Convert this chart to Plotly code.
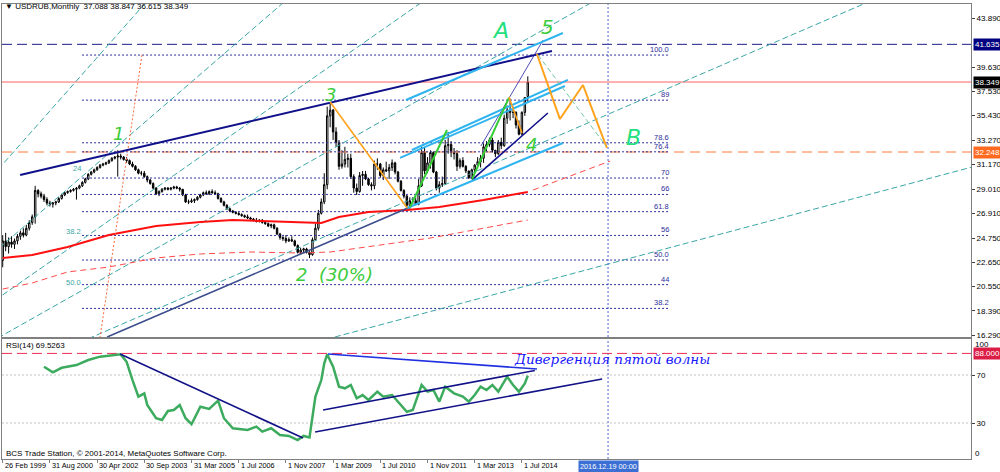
import plotly.graph_objects as go

# ---------------- data (bar index = monthly bar on the MT4 time scale) ----------------
bars = list(range(179))
opens = [22.8,24.5,24.0,24.4,24.2,24.5,24.9,25.2,25.0,25.6,26.1,26.6,28.9,28.6,28.4,28.1,27.8,27.7,27.8,27.9,
         28.2,28.5,28.7,28.8,28.9,29.0,29.1,29.3,29.6,29.9,30.3,30.5,30.7,30.9,31.1,31.2,31.3,31.5,31.7,31.8,
         31.9,31.8,31.6,31.5,31.2,31.0,30.7,30.4,30.4,30.1,29.8,29.5,29.1,28.6,28.8,29.0,29.1,29.0,29.1,29.2,
         29.1,29.0,28.5,27.9,27.9,28.0,28.1,28.3,28.5,28.7,28.6,28.8,28.7,28.6,28.2,27.9,27.6,27.3,27.1,27.0,
         26.9,26.8,26.7,26.6,26.5,26.4,26.3,26.2,26.3,26.1,26.0,25.8,25.9,25.6,25.1,24.8,24.7,24.5,24.6,24.5,
         24.1,23.5,23.7,23.8,23.5,23.3,24.6,25.6,26.9,27.9,29.4,35.4,35.9,34.0,33.1,31.0,31.2,31.6,31.7,30.1,
         29.1,28.8,30.2,30.3,29.9,29.4,29.3,31.2,31.2,30.2,30.7,30.6,30.9,31.3,30.5,29.7,28.9,28.4,27.6,28.0,
         28.0,27.7,29.3,32.2,30.6,31.3,32.2,30.5,29.1,29.4,29.5,32.8,32.9,32.2,32.1,31.0,31.5,31.0,30.6,30.0,
         30.7,31.1,31.4,31.7,32.7,32.9,33.3,32.4,32.1,33.1,32.8,35.2,35.9,35.7,35.7,34.6,33.8,35.7,37.088]
highs = [25.0,25.2,24.8,24.9,24.7,25.1,25.4,25.6,25.9,26.3,26.8,29.3,29.0,28.8,28.6,28.3,28.0,27.9,28.0,28.3,
         28.6,28.8,28.9,29.0,29.1,29.2,29.4,29.7,30.0,30.4,30.6,30.8,31.0,31.2,31.3,31.4,31.6,31.8,31.9,32.4,
         32.1,31.9,31.8,31.6,31.4,31.1,30.8,30.6,30.6,30.2,29.9,29.6,29.2,28.9,29.1,29.2,29.2,29.2,29.3,29.3,
         29.2,29.0,28.6,28.1,28.2,28.2,28.4,28.6,28.8,28.9,28.9,29.0,28.9,28.7,28.3,28.0,27.7,27.4,27.2,27.1,
         27.0,26.9,26.8,26.8,26.6,26.5,26.5,26.4,26.4,26.2,26.1,26.0,26.0,25.7,25.2,24.9,25.0,24.8,24.9,24.6,
         24.2,23.9,23.9,23.9,23.6,24.8,26.0,27.2,28.2,30.4,36.2,36.6,36.0,34.4,33.3,32.4,32.7,32.1,32.1,30.3,
         29.5,30.5,30.6,30.6,30.0,29.6,31.5,31.7,31.3,30.9,31.4,31.2,31.6,31.4,30.6,29.8,29.0,28.5,28.3,28.3,
         28.3,29.9,32.7,32.6,31.8,32.4,32.3,30.6,29.7,30.1,33.3,34.0,33.2,32.6,32.4,31.7,31.8,31.1,30.6,30.8,
         31.2,31.8,32.0,33.0,33.2,33.5,33.5,32.4,33.3,33.5,35.5,36.3,36.9,36.2,35.8,35.0,35.8,37.0,38.847]
lows = [22.2,23.6,23.4,23.9,23.8,24.2,24.6,24.8,24.9,25.4,25.9,26.0,28.3,28.2,27.9,27.6,27.5,27.4,27.6,27.8,
        28.1,28.4,28.6,28.7,28.8,28.1,29.0,29.2,29.5,29.8,30.2,30.4,30.6,30.8,31.0,31.1,31.2,31.4,31.6,30.1,
        31.6,31.5,31.3,31.1,30.9,30.6,30.3,30.2,30.0,29.6,29.4,29.0,28.5,28.4,28.7,28.9,28.9,28.9,29.0,29.0,
        28.8,28.4,27.8,27.7,27.8,27.8,28.0,28.2,28.4,28.5,28.5,28.6,28.5,28.1,27.8,27.5,27.2,27.0,26.9,26.8,
        26.7,26.6,26.5,26.4,26.3,26.2,26.1,26.1,26.0,25.9,25.7,25.6,25.5,25.0,24.6,24.5,24.3,24.4,24.4,24.0,
        23.4,23.3,23.5,23.4,23.0,23.2,24.5,25.4,26.8,27.7,29.0,34.4,33.3,32.7,30.7,30.8,30.9,30.9,29.9,28.7,
        28.5,28.7,29.3,29.8,29.3,28.9,29.0,30.7,30.0,29.8,30.5,29.9,30.6,30.3,29.6,28.8,28.2,27.3,27.3,27.7,
        27.6,27.6,29.2,30.3,30.4,30.8,30.4,28.9,28.7,29.2,29.4,32.1,31.8,31.6,30.6,30.8,30.9,30.4,29.9,29.9,
        30.5,31.0,30.9,31.3,32.3,32.7,32.2,31.8,32.0,32.5,32.7,34.7,35.0,35.2,34.3,33.7,33.7,35.4,36.615]
closes = [24.5,24.0,24.4,24.2,24.5,24.9,25.2,25.0,25.6,26.1,26.6,28.9,28.6,28.4,28.1,27.8,27.7,27.8,27.9,28.2,
          28.5,28.7,28.8,28.9,29.0,29.1,29.3,29.6,29.9,30.3,30.5,30.7,30.9,31.1,31.2,31.3,31.5,31.7,31.8,31.9,
          31.8,31.6,31.5,31.2,31.0,30.7,30.4,30.4,30.1,29.8,29.5,29.1,28.6,28.8,29.0,29.1,29.0,29.1,29.2,29.1,
          29.0,28.5,27.9,27.9,28.0,28.1,28.3,28.5,28.7,28.6,28.8,28.7,28.6,28.2,27.9,27.6,27.3,27.1,27.0,26.9,
          26.8,26.7,26.6,26.5,26.4,26.3,26.2,26.3,26.1,26.0,25.8,25.9,25.6,25.1,24.8,24.7,24.5,24.6,24.5,24.1,
          23.5,23.7,23.8,23.5,23.3,24.6,25.6,26.9,27.9,29.4,35.4,35.9,34.0,33.1,31.0,31.2,31.6,31.7,30.1,29.1,
          28.8,30.2,30.3,29.9,29.4,29.3,31.2,31.2,30.2,30.7,30.6,30.9,31.3,30.5,29.7,28.9,28.4,27.6,28.0,28.0,
          27.7,29.3,32.2,30.6,31.3,32.2,30.5,29.1,29.4,29.5,32.8,32.9,32.2,32.1,31.0,31.5,31.0,30.6,30.0,30.7,
          31.1,31.4,31.7,32.7,32.9,33.3,32.4,32.1,33.1,32.8,35.2,35.9,35.7,35.7,34.6,33.8,35.7,37.0,38.349]

tick_bars = [0, 16, 32, 48, 64, 80, 96, 112, 128, 144, 160, 176]
tick_text = ["26 Feb 1999", "31 Aug 2000", "30 Apr 2002", "30 Sep 2003", "31 Mar 2005", "1 Jul 2006",
             "1 Nov 2007", "1 Mar 2009", "1 Jul 2010", "1 Nov 2011", "1 Mar 2013", "1 Jul 2014"]
price_ticks = [43.890, 39.630, 37.530, 35.430, 33.270, 31.170, 29.010, 26.910, 24.750, 22.650, 20.550, 18.390, 16.290]

# moving averages (bar, price)
ma_bars = [0, 10, 22, 36, 52, 67, 78, 95, 108, 114, 124, 137, 148, 163, 178]
ma_vals = [23.01, 23.27, 23.97, 25.01, 25.80, 26.15, 26.32, 26.15, 26.06, 26.58, 27.02, 27.19, 27.45, 28.06, 28.76]
ma2_bars = [0, 10, 22, 36, 52, 67, 84, 101, 111, 145, 178]
ma2_vals = [20.30, 20.83, 21.79, 22.22, 23.01, 23.36, 23.53, 23.44, 23.53, 24.75, 26.32]

# RSI(14) (bar, value)
rsi_bars = [14, 17, 20, 25, 29, 33, 40, 42, 44, 46, 48, 49, 52, 54, 56, 58, 60, 62, 64, 67, 70, 73, 75, 78, 83,
            86, 88, 91, 94, 97, 100, 102, 104, 106, 108, 109, 110, 112, 114, 116, 118, 120, 122, 124, 127, 129,
            132, 135, 137, 139, 142, 144, 146, 148, 150, 153, 156, 158, 160, 162, 164, 166, 168, 171, 173, 175,
            177, 178]
rsi_vals = [76.9, 72.2, 76.0, 78.3, 82.5, 85.3, 87.2, 81.0, 65.8, 52.0, 54.7, 45.0, 34.0, 32.5, 40.0, 40.8, 45.0,
            34.0, 29.0, 43.6, 41.7, 48.6, 34.0, 25.6, 24.2, 27.0, 22.8, 25.6, 20.0, 19.2, 15.8, 19.2, 18.0, 52.0,
            65.8, 79.7, 87.2, 76.9, 60.3, 58.9, 61.7, 50.6, 53.3, 49.2, 56.1, 52.0, 53.3, 45.0, 39.4, 40.8, 61.7,
            56.1, 57.5, 47.8, 60.3, 54.7, 52.0, 47.8, 53.3, 60.3, 57.5, 61.7, 56.1, 68.6, 61.7, 56.1, 63.0, 69.5]

# horizontal price levels
level_high = 41.635
level_bid = 38.349
level_b = 32.248
rsi_level = 88.0
rsi_dots = [70, 30]

# Fibonacci retracement
fib_bars = [26.9, 226.2]
fib_zero, fib_full = 4.96, 40.70
fib_levels = [100.0, 89, 78.6, 76.4, 70, 66, 61.8, 56, 50.0, 44, 38.2]
fib_labels = ["100.0", "89", "78.6", "76.4", "70", "66", "61.8", "56", "50.0", "44", "38.2"]

# Fibonacci fan (first point, second point) and levels
fan_p1 = (-102.6, 1.36)
fan_p2 = (26.9, 39.0)
fan_levels = [0, 23.6, 38.2, 50, 61.8, 76.4]
fan_labels = {23.6: "24", 38.2: "38.2", 50: "50.0"}

# trend lines (bar, price) pairs
navy_top = [(5.9, 30.24), (186.2, 41.05)]
navy_base = [(35.4, 16.12), (138.1, 27.45)]
navy_w4 = [(159.1, 29.81), (184.8, 35.65)]
navy_thin = [(162.1, 32.77), (183.2, 42.01)]
sky_low = [(137.1, 27.37), (189.9, 33.03)]
sky_mid1 = [(134.7, 31.73), (190.6, 38.00)]
sky_mid2 = [(138.7, 32.42), (191.6, 38.53)]
sky_top = [(136.7, 36.78), (189.9, 42.62)]
green_1 = [(138.1, 27.45), (150.6, 34.17)]
green_2 = [(159.1, 29.89), (171.6, 36.96)]
orange_1 = [(111.0, 36.61), (137.1, 27.37)]
orange_2 = [(171.6, 37.04), (176.0, 33.90)]
orange_path = [(181.1, 40.79), (188.9, 35.12), (196.7, 38.09), (204.8, 32.60)]
pale_dash = [(181.5, 40.70), (204.5, 32.77)]
orange_dot = [(47.2, 40.70), (33.0, 16.12)]
red_dash_ext = [(179.8, 28.94), (205.9, 31.46)]
vline_bar = 205.2

rsi_down = [(39.8, 87.5), (101.8, 17.5)]
rsi_top = [(110.3, 87.5), (181.1, 75.0)]
rsi_ch_up = [(108.6, 40.8), (180.4, 73.75)]
rsi_ch_low = [(105.9, 22.5), (203.2, 66.7)]

# ---------------- layout constants ----------------
W, H = 1000, 472
ML, MR, MT, MB = 2, 29, 4, 13
X_RANGE = [-0.24, 328.24]
P_RANGE = [16.119, 45.151]
MAIN_DOM = [0.2681, 1.0]
RSI_DOM = [0.0, 0.2637]
FONT = "Liberation Sans, DejaVu Sans, sans-serif"
FRAME = "#808080"

def px_x(px):
    return (px - ML) / (W - ML - MR)

def px_y(py):
    return (H - MB - py) / (H - MT - MB)

fig = go.Figure()

def line(pts, color, width=1.0, dash="solid", panel="main"):
    fig.add_trace(go.Scatter(
        x=[p[0] for p in pts], y=[p[1] for p in pts], mode="lines",
        line=dict(color=color, width=width, dash=dash),
        xaxis="x2" if panel == "main" else "x", yaxis="y" if panel == "main" else "y2",
        hoverinfo="skip", showlegend=False))

# horizontal levels (full width)
line([(X_RANGE[0], level_high), (X_RANGE[1], level_high)], "#1c1c8a", 1, "10px,5px")
line([(X_RANGE[0], level_bid), (X_RANGE[1], level_bid)], "#ff6464", 1)
line([(X_RANGE[0], level_b), (X_RANGE[1], level_b)], "#ff7a3c", 1, "10px,6px")

# fibonacci retracement
for lv in fib_levels:
    p = fib_zero + (fib_full - fib_zero) * lv / 100.0
    line([(fib_bars[0], p), (fib_bars[1], p)], "#2e2ea0", 1, "2px,2px")

# fibonacci fan rays (extended to the right edge)
for lv in fan_levels:
    p_at = fan_p2[1] + (fan_p1[1] - fan_p2[1]) * lv / 100.0
    slope = (p_at - fan_p1[1]) / (fan_p2[0] - fan_p1[0])
    xe = X_RANGE[1] + 5
    line([fan_p1, (xe, fan_p1[1] + slope * (xe - fan_p1[0]))], "#3aa6a6", 1, "6px,3px")

# moving averages
line(list(zip(ma2_bars, ma2_vals)), "#ff4a4a", 1, "6px,4px")
line(red_dash_ext, "#ff4a4a", 1, "6px,4px")
line(list(zip(ma_bars, ma_vals)), "#ff1010", 2)

# orange dotted
line(orange_dot, "#ff6a3a", 1, "2px,2px")

# candles
fig.add_trace(go.Candlestick(
    x=bars, open=opens, high=highs, low=lows, close=closes, xaxis="x2", yaxis="y",
    increasing=dict(line=dict(color="#000000", width=1), fillcolor="#ffffff"),
    decreasing=dict(line=dict(color="#000000", width=1), fillcolor="#000000"),
    whiskerwidth=0, hoverinfo="skip", showlegend=False))

# trend lines
line(navy_top, "#10108a", 2)
line(navy_base, "#3d4e8c", 1.6)
line(navy_w4, "#10108a", 1.6)
line(navy_thin, "#2020a0", 0.8)
for seg in (sky_low, sky_mid1, sky_mid2, sky_top):
    line(seg, "#2fb4f0", 2)
line(green_1, "#33cc33", 2)
line(green_2, "#33cc33", 2)
line(orange_1, "#ffa21c", 1.6)
line(orange_2, "#ffa21c", 1.6)
line(orange_path, "#ffa21c", 2)
line(pale_dash, "#72c8a0", 1, "5px,3px")

# vertical crosshair line through both panels
line([(vline_bar, P_RANGE[0]), (vline_bar, P_RANGE[1])], "#4a64d8", 1, "2px,2px")
line([(vline_bar, 0), (vline_bar, 100)], "#4a64d8", 1, "2px,2px", panel="rsi")

# RSI panel
line([(X_RANGE[0], rsi_level), (X_RANGE[1], rsi_level)], "#ee2a55", 1, "10px,5px", panel="rsi")
for v in rsi_dots:
    line([(X_RANGE[0], v), (X_RANGE[1], v)], "#c4c4c4", 1, "2px,2px", panel="rsi")
line(list(zip(rsi_bars, rsi_vals)), "#3cab5e", 2.5, panel="rsi")
line(rsi_down, "#121288", 1.6, panel="rsi")
line(rsi_top, "#2030e0", 1.6, panel="rsi")
line(rsi_ch_up, "#121288", 1.6, panel="rsi")
line(rsi_ch_low, "#121288", 1.6, panel="rsi")

ann = []
def text(x, y, s, size=8, color="#000000", xanchor="left", yanchor="middle", xref="x2", yref="y",
         bg=None, family=FONT, xshift=0, yshift=0):
    d = dict(x=x, y=y, text=s, showarrow=False, xref=xref, yref=yref, xanchor=xanchor, yanchor=yanchor,
             font=dict(size=size, color=color, family=family), xshift=xshift, yshift=yshift)
    if bg:
        d.update(bgcolor=bg, borderpad=1)
    else:
        d.update(borderpad=0)
    ann.append(d)

# fib labels
for lv, lab in zip(fib_levels, fib_labels):
    p = fib_zero + (fib_full - fib_zero) * lv / 100.0
    text(fib_bars[1], p, lab, 7.5, "#2e2e9a", "right", "bottom", yshift=0)
# fan labels
for lv, lab in fan_labels.items():
    p_at = fan_p2[1] + (fan_p1[1] - fan_p2[1]) * lv / 100.0
    text(fan_p2[0], p_at, lab, 7.5, "#3aa6a6", "right", "bottom", yshift=2)

# wave labels
HAND = "DejaVu Sans, sans-serif"
text(39.1, 33.90, "<i>1</i>", 18, "#3ccc3c", "center", family=HAND)
text(112.6, 21.61, "<i>2  (30%)</i>", 18, "#3ccc3c", "center", family=HAND)
text(111.0, 37.30, "<i>3</i>", 18, "#3ccc3c", "center", family=HAND)
text(179.1, 32.86, "<i>4</i>", 18, "#3ccc3c", "center", family=HAND)
text(184.8, 43.15, "<i>5</i>", 20, "#3ccc3c", "center", family=HAND)
text(168.9, 42.80, "<i>A</i>", 22, "#22e07e", "center", family=HAND)
text(213.7, 33.47, "<i>B</i>", 22, "#22e07e", "center", family=HAND)
text(206.5, 83.5, "<i>Дивергенция пятой волны</i>", 13.5, "#1414ff", "center", xref="x", yref="y2",
     family="DejaVu Serif, serif")

# headers
text(px_x(4), px_y(7), "▼ USDRUB,Monthly  37.088 38.847 36.615 38.349", 8, "#000000", xref="paper", yref="paper")
text(px_x(5), px_y(345.5), "RSI(14) 69.5263", 8, "#000000", xref="paper", yref="paper")
text(px_x(5), px_y(453.5), "BCS Trade Station, © 2001-2014, MetaQuotes Software Corp.", 8, "#000000",
     xref="paper", yref="paper")

# x labels (MT4 style: text to the right of tick)
for b, t in zip(tick_bars, tick_text):
    text(b, 0, t, 7.3, "#000000", "left", "top", xref="x", yref="paper", xshift=1, yshift=-1)
text(vline_bar, 0, "2016.12.19 00:00", 7.3, "#ffffff", "center", "top", xref="x", yref="paper",
     bg="#3c6fd4", yshift=-1)

# price boxes on the right axis
text(1, level_high, "41.635", 8, "#ffffff", "left", xref="paper", yref="y", bg="#000080", xshift=2)
text(1, level_bid, "38.349", 8, "#ffffff", "left", xref="paper", yref="y", bg="#000000", xshift=2)
text(1, level_b, "32.248", 8, "#ffffff", "left", xref="paper", yref="y", bg="#ff6a20", xshift=2)
text(1, rsi_level, "88.000", 8, "#ffffff", "left", xref="paper", yref="y2", bg="#dc1e46", xshift=2)
text(1, 100, "100", 8, "#000000", "left", "top", xref="paper", yref="y2", xshift=3)
text(1, 0, "0", 8, "#000000", "left", "bottom", xref="paper", yref="y2", xshift=3)

axis_common = dict(showgrid=False, zeroline=False, showline=True, mirror=True, linecolor=FRAME, linewidth=1)
fig.update_layout(
    width=W, height=H, margin=dict(l=ML, r=MR, t=MT, b=MB, autoexpand=False),
    paper_bgcolor="#ffffff", plot_bgcolor="#ffffff", showlegend=False,
    font=dict(family=FONT, size=8, color="#000000"),
    xaxis=dict(domain=[0, 1], anchor="y2", range=X_RANGE, tickvals=tick_bars, ticks="outside", ticklen=3,
               tickcolor=FRAME, showticklabels=False, rangeslider=dict(visible=False), **axis_common),
    xaxis2=dict(domain=[0, 1], anchor="y", matches="x", range=X_RANGE, showticklabels=False, ticks="",
                rangeslider=dict(visible=False), **axis_common),
    yaxis=dict(domain=MAIN_DOM, anchor="x2", side="right", range=P_RANGE, tickvals=price_ticks,
               ticktext=["%.3f" % v for v in price_ticks], ticks="outside", ticklen=3, tickcolor="#404040",
               tickfont=dict(size=8, color="#000000"), **axis_common),
    yaxis2=dict(domain=RSI_DOM, anchor="x", side="right", range=[0, 100], tickvals=rsi_dots,
                ticktext=[str(v) for v in rsi_dots], ticks="outside", ticklen=3, tickcolor="#404040",
                tickfont=dict(size=8, color="#000000"), **axis_common),
    annotations=ann,
)

fig.write_html("out.html", config={"displayModeBar": False},
               post_script="document.body.style.margin='0';document.body.style.padding='0';"
                           "document.documentElement.style.overflow='hidden';")
